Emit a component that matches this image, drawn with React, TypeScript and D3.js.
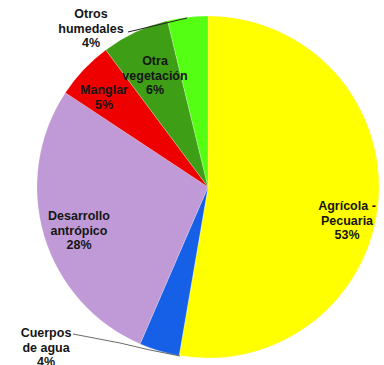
import React from "react";
import * as d3 from "d3";

const categories = ["Agrícola - Pecuaria", "Cuerpos de agua", "Desarrollo antrópico", "Manglar", "Otra vegetación", "Otros humedales"];
const values = [52.7, 3.8, 27.8, 5.5, 6.4, 3.8];
const percentLabels = ["53%", "4%", "28%", "5%", "6%", "4%"];
const colors = ["#FFFF00", "#1560E6", "#C09AD6", "#EE0000", "#3E9E16", "#55FF14"];
const labelLines = [["Agrícola -", "Pecuaria"], ["Cuerpos", "de agua"], ["Desarrollo", "antrópico"], ["Manglar"], ["Otra", "vegetación"], ["Otros", "humedales"]];
const labelPos: [number, number][] = [[347, 210], [46, 337], [79, 220], [104, 94], [155, 65], [91, 18]];

export default function App() {
  const W = 384, H = 365;
  const cx = 208, cy = 187, r = 171;
  const data = categories.map((c, i) => ({ c, v: values[i], i }));
  const pie = d3.pie<any>().value((d) => d.v).sort(null).startAngle(0).endAngle(2 * Math.PI);
  const arc = d3.arc<any>().innerRadius(0).outerRadius(r);
  const arcs = pie(data);
  const lh = 14.5;
  return (
    <svg width={W} height={H} style={{ position: "absolute", left: 0, top: 0, background: "#fff" }}>
      <g transform={`translate(${cx},${cy})`}>
        {arcs.map((a, i) => (
          <path key={i} d={arc(a) as string} fill={colors[i]} stroke="#fff" strokeOpacity={0.35} strokeWidth={0.6} />
        ))}
      </g>
      <polyline points="128,32 187,18" fill="none" stroke="#222" strokeWidth={1} />
      <polyline points="73,334 120,343 150,350 180,356" fill="none" stroke="#444" strokeWidth={0.8} />
      {labelLines.map((lines, i) => {
        const [x, y] = labelPos[i];
        const all = [...lines, percentLabels[i]];
        return (
          <text key={i} x={x} y={y} textAnchor="middle" fontFamily="'Liberation Sans', Arial, sans-serif" fontWeight="bold" fontSize={12.5} fill="#151515">
            {all.map((t, j) => (
              <tspan key={j} x={x} dy={j === 0 ? 0 : lh}>{t}</tspan>
            ))}
          </text>
        );
      })}
    </svg>
  );
}
